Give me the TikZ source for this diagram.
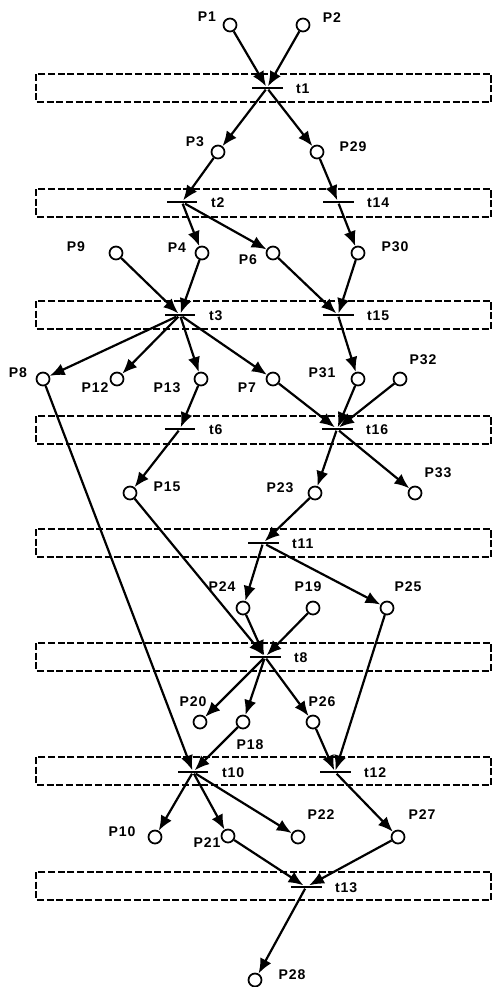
\documentclass[tikz,border=0pt]{standalone}
\usepackage{fontspec}
\setmainfont{Liberation Sans}
\newfontfamily\lblfont{Liberation Sans}[LetterSpace=6]
\usetikzlibrary{arrows.meta}
\tikzset{
  place/.style={circle,draw,line width=1pt,minimum size=.26cm,inner sep=0pt},
  trans/.style={rectangle,fill,inner sep=0pt,minimum width=.62cm,minimum height=1.5pt},
  lbl/.style={font=\lblfont\fontsize{8}{9}\selectfont\bfseries,inner sep=1pt},
  arc/.style={line width=1.25pt,-{Latex[length=8.5pt,width=7pt]}},
  stage/.style={line width=.8pt,dash pattern=on 4pt off 1.5pt},
}
\begin{document}
\begin{tikzpicture}[x=.02cm,y=-.02cm]
	\useasboundingbox (0,0) rectangle (492,987);
	% dashed stage boxes
	\foreach \y in {88,203,315,430,543,657,771,886}
		\draw[stage] (36,\y-14) rectangle (491,\y+14);
	% places
	\foreach \n/\x/\y/\lx/\ly in {P1/230/25/207/17,P2/303/25/332/18,
		P3/218/152/195/142,P29/317/152/353/147,
		P9/116/253/76/247,P4/202/253/177/248,P6/273/253/248/260,P30/358/253/395/247,
		P8/43/379/18/373,P12/117/379/95/388,P13/201/379/167/388,P7/273/379/247/388,
		P31/358/379/322/373,P32/400/379/423/360,
		P15/130/493/167/487,P23/315/493/280/488,P33/415/493/438/473,
		P24/243/608/222/587,P19/313/608/308/587,P25/387/608/408/587,
		P20/200/722/193/702,P18/243/722/250/745,P26/313/722/322/702,
		P10/155/837/122/832,P21/228/836/207/843,P22/298/837/321/815,P27/398/837/422/815,
		P28/255/980/292/975}
	{
		\node[place] (\n) at (\x,\y) {};
		\node[lbl] (\n-l) at (\lx,\ly) {\n};
	}
	% transitions
	\foreach \n/\x/\y in {t1/267/88,t2/182/202,t14/338/202,t3/180/315,t15/338/315,
		t6/180/429,t16/337/429,t11/263/543,t8/265/657,t10/193/772,t12/335/772,t13/306/887}
	{
		\node[trans] (\n) at (\x,\y) {};
		\node[lbl,anchor=west] (\n-l) at (\x+27,\y+1) {\n};
	}
	% arcs
	\foreach \a/\b in {P1/t1,P2/t1,t1/P3,t1/P29,P3/t2,P29/t14,t2/P4,t2/P6,t14/P30,
		P9/t3,P4/t3,P6/t15,P30/t15,t3/P8,t3/P12,t3/P13,t3/P7,t15/P31,
		P13/t6,P7/t16,P31/t16,P32/t16,t6/P15,t16/P23,t16/P33,
		P8/t10,P15/t8,P23/t11,t11/P24,t11/P25,P24/t8,P19/t8,
		t8/P20,t8/P18,t8/P26,P25/t12,P18/t10,P26/t12,
		t10/P10,t10/P21,t10/P22,t12/P27,P21/t13,P27/t13,t13/P28}
		\draw[arc] (\a) -- (\b);
\end{tikzpicture}
\end{document}
